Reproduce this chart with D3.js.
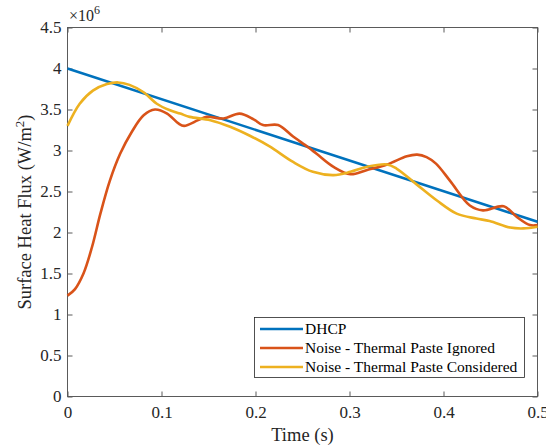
<!DOCTYPE html>
<html>
<head>
<meta charset="utf-8">
<script src="https://cdn.jsdelivr.net/npm/d3@7"></script>
<style>
  body { margin: 0; background: #fff; }
  svg { display: block; font-family: "Liberation Serif", "Times New Roman", serif; }
</style>
</head>
<body>
<svg width="546" height="446"></svg>
<script>
// values, y in units of 1e6 W/m^2
const seriesNames = ["DHCP", "Noise - Thermal Paste Ignored", "Noise - Thermal Paste Considered"];
const seriesColors = ["#0072BD", "#D95319", "#EDB120"];

const dhcpT = [0, 0.5];
const dhcpQ = [4.0, 2.13];

const ignoredT = [0, 0.008, 0.017, 0.026, 0.035, 0.045, 0.056, 0.068, 0.081, 0.093, 0.106, 0.118, 0.124,
  0.139, 0.148, 0.166, 0.183, 0.198, 0.208, 0.224, 0.24, 0.256, 0.265, 0.283, 0.301, 0.318, 0.34,
  0.361, 0.372, 0.382, 0.392, 0.407, 0.428, 0.442, 0.464, 0.478, 0.492, 0.5];
const ignoredQ = [1.23, 1.31, 1.5, 1.82, 2.23, 2.63, 2.96, 3.22, 3.43, 3.5, 3.45, 3.33, 3.3,
  3.37, 3.41, 3.39, 3.45, 3.38, 3.31, 3.31, 3.17, 3.04, 2.96, 2.8, 2.71, 2.76, 2.83,
  2.93, 2.95, 2.92, 2.84, 2.63, 2.33, 2.27, 2.32, 2.19, 2.09, 2.09];

const consideredT = [0, 0.013, 0.027, 0.042, 0.054, 0.066, 0.081, 0.095, 0.109, 0.12, 0.13, 0.152, 0.173,
  0.194, 0.215, 0.24, 0.261, 0.283, 0.301, 0.318, 0.34, 0.35, 0.371, 0.393, 0.414, 0.435, 0.449,
  0.471, 0.485, 0.5];
const consideredQ = [3.3, 3.57, 3.73, 3.81, 3.83, 3.8, 3.71, 3.57, 3.49, 3.45, 3.41, 3.37, 3.29,
  3.18, 3.05, 2.86, 2.74, 2.7, 2.74, 2.8, 2.83, 2.78, 2.59, 2.39, 2.23, 2.17, 2.14,
  2.06, 2.05, 2.07];

const xTicks = [0, 0.1, 0.2, 0.3, 0.4, 0.5];
const yTicks = [0, 0.5, 1, 1.5, 2, 2.5, 3, 3.5, 4, 4.5];

const svg = d3.select("svg");
const plotLeft = 67.5, plotRight = 537.5, plotTop = 27.5, plotBottom = 396.5;

const x = d3.scaleLinear().domain([0, 0.5]).range([plotLeft, plotRight]);
const y = d3.scaleLinear().domain([0, 4.5]).range([plotBottom, plotTop]);

const axisColor = "#262626";
const boxGray = "#5a5a5a";

// box
svg.append("rect")
  .attr("x", plotLeft).attr("y", plotTop)
  .attr("width", plotRight - plotLeft).attr("height", plotBottom - plotTop)
  .attr("fill", "none").attr("stroke", boxGray).attr("stroke-width", 1);

function styleAxis(g) {
  g.select(".domain").remove();
  g.selectAll(".tick line").attr("stroke", boxGray);
  g.selectAll(".tick text").attr("fill", axisColor).style("font-size", "17px")
    .style("font-family", "Liberation Serif, serif");
}

svg.append("g").attr("transform", `translate(0,${plotBottom})`)
  .call(d3.axisBottom(x).tickValues(xTicks).tickFormat(d3.format("")).tickSize(-5).tickPadding(9))
  .call(styleAxis);
svg.append("g").attr("transform", `translate(0,${plotTop})`)
  .call(d3.axisTop(x).tickValues(xTicks).tickFormat("").tickSize(-5))
  .call(styleAxis);
svg.append("g").attr("transform", `translate(${plotLeft},0)`)
  .call(d3.axisLeft(y).tickValues(yTicks).tickFormat(d3.format("")).tickSize(-5).tickPadding(6))
  .call(styleAxis);
svg.append("g").attr("transform", `translate(${plotRight},0)`)
  .call(d3.axisRight(y).tickValues(yTicks).tickFormat("").tickSize(-5))
  .call(styleAxis);

// lines
const series = [
  dhcpT.map((t, i) => [t, dhcpQ[i]]),
  ignoredT.map((t, i) => [t, ignoredQ[i]]),
  consideredT.map((t, i) => [t, consideredQ[i]])
];
const line = d3.line().x(d => x(d[0])).y(d => y(d[1])).curve(d3.curveCatmullRom.alpha(0.5));

svg.append("g")
  .selectAll("path")
  .data(series)
  .join("path")
  .attr("d", line)
  .attr("fill", "none")
  .attr("stroke", (d, i) => seriesColors[i])
  .attr("stroke-width", 2.6)
  .attr("stroke-linejoin", "round");

// exponent
const expo = svg.append("text").attr("x", 69).attr("y", 21)
  .attr("fill", axisColor).style("font-size", "16px");
expo.append("tspan").text("×10");
expo.append("tspan").attr("dy", -7).style("font-size", "12px").text("6");

// axis labels
svg.append("text")
  .attr("x", (plotLeft + plotRight) / 2).attr("y", 441)
  .attr("text-anchor", "middle").attr("fill", axisColor)
  .style("font-size", "18.5px").text("Time (s)");

const yl = svg.append("text")
  .attr("transform", `translate(31,${(plotTop + plotBottom) / 2}) rotate(-90)`)
  .attr("text-anchor", "middle").attr("fill", axisColor)
  .style("font-size", "18.5px");
yl.append("tspan").text("Surface Heat Flux (W/m");
yl.append("tspan").attr("dy", -7).style("font-size", "13px").text("2");
yl.append("tspan").attr("dy", 7).text(")");

// legend
const legend = svg.append("g");
legend.append("rect")
  .attr("x", 254.5).attr("y", 317.5).attr("width", 270).attr("height", 60)
  .attr("fill", "#fff").attr("stroke", axisColor).attr("stroke-width", 0.8);
seriesNames.forEach((name, i) => {
  const ly = 329 + i * 19;
  legend.append("line")
    .attr("x1", 260).attr("x2", 303).attr("y1", ly).attr("y2", ly)
    .attr("stroke", seriesColors[i]).attr("stroke-width", 2.6);
  legend.append("text")
    .attr("x", 305).attr("y", ly).attr("dy", "0.33em")
    .attr("fill", "#000").style("font-size", "15.5px").text(name);
});
</script>
</body>
</html>
